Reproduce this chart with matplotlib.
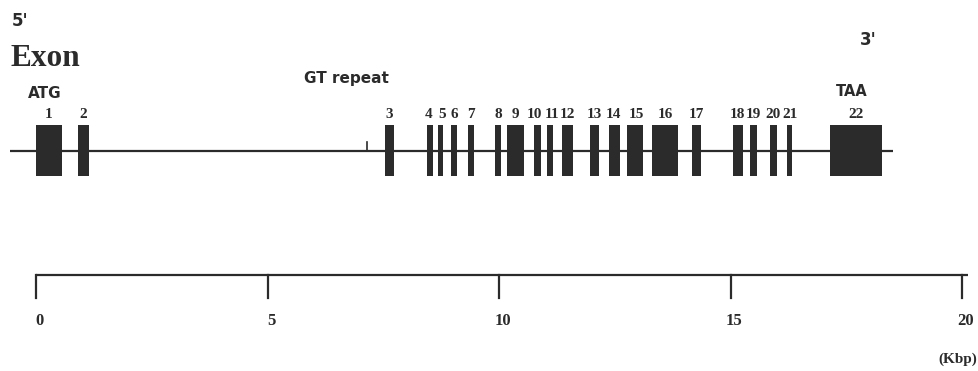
import matplotlib
matplotlib.use("Agg")
import matplotlib.pyplot as plt

# exon positions (kbp)
exon_labels = [str(i) for i in range(1, 23)]
exon_start = [0.00, 0.90, 7.54, 8.44, 8.69, 8.96, 9.32, 9.91, 10.18, 10.76, 11.04,
              11.37, 11.97, 12.38, 12.77, 13.30, 14.16, 15.05, 15.42, 15.86, 16.21, 17.15]
exon_end = [0.56, 1.15, 7.73, 8.58, 8.80, 9.10, 9.47, 10.04, 10.54, 10.90, 11.17,
            11.60, 12.16, 12.62, 13.12, 13.87, 14.36, 15.26, 15.58, 16.00, 16.33, 18.28]
gene_span = [-0.56, 18.51]
gt_repeat = 7.14
scale_ticks = [0, 5, 10, 15, 20]
scale_end = 20.13

# layout: x in kbp, y in pixel rows from the top
x0, px_per_kbp = 36, 46.3
W, H = 979, 371

fig = plt.figure(figsize=(W / 100, H / 100), dpi=100)
ax = fig.add_axes([0, 0, 1, 1])
ax.set_xlim(-x0 / px_per_kbp, (W - x0) / px_per_kbp)
ax.set_ylim(H, 0)
ax.axis("off")

ink = "#2b2b2b"
serif = "Liberation Serif"
sans = "DejaVu Sans"


def px(x):
    return (x - x0) / px_per_kbp


# small label nudges (pixels) where numbers crowd together
nudge = {"4": -1, "5": 1, "10": -3, "11": 2, "14": -1, "15": 1, "20": -1, "21": 1}

# gene backbone
line_y = 151
ax.plot(gene_span, [line_y, line_y], color=ink, lw=1.6, solid_capstyle="butt")

# exons
top, bottom = 125, 176
for s, e, lab in zip(exon_start, exon_end, exon_labels):
    ax.fill_between([s, e], top, bottom, color=ink, lw=0)
    xc = (s + e) / 2 + nudge.get(lab, 0) / px_per_kbp
    ax.text(xc, 115, lab, ha="center", va="center", fontsize=11,
            fontweight="bold", family=serif, color=ink)

# GT repeat mark
ax.plot([gt_repeat, gt_repeat], [142, line_y], color=ink, lw=1.2)

# annotations
ax.text(px(12), 21, "5'", ha="left", va="center",
        fontsize=12, fontweight="bold", family=sans, color=ink)
ax.text(px(11), 58, "Exon", ha="left", va="center",
        fontsize=22.5, fontweight="bold", family=serif, color=ink)
ax.text(px(45), 93, "ATG", ha="center", va="center",
        fontsize=11, fontweight="bold", family=sans, color=ink)
ax.text(px(346), 79, "GT repeat", ha="center", va="center",
        fontsize=11, fontweight="bold", family=sans, color=ink)
ax.text(px(852), 91, "TAA", ha="center", va="center",
        fontsize=10.5, fontweight="bold", family=sans, color=ink)
ax.text(px(868), 40, "3'", ha="center", va="center",
        fontsize=12, fontweight="bold", family=sans, color=ink)

# scale bar
bar_y = 275
ax.plot([scale_ticks[0], scale_end], [bar_y, bar_y], color=ink, lw=1.6,
        solid_capstyle="butt")
for t in scale_ticks:
    ax.plot([t, t], [bar_y, 298], color=ink, lw=1.6)
    ax.text(t + 0.08, 321, str(t), ha="center", va="center", fontsize=12,
            fontweight="bold", family=serif, color=ink)
ax.text(px(977), 359, "(Kbp)", ha="right", va="center",
        fontsize=11, fontweight="bold", family=serif, color=ink)

fig.savefig("out.png", dpi=100, facecolor="white")
